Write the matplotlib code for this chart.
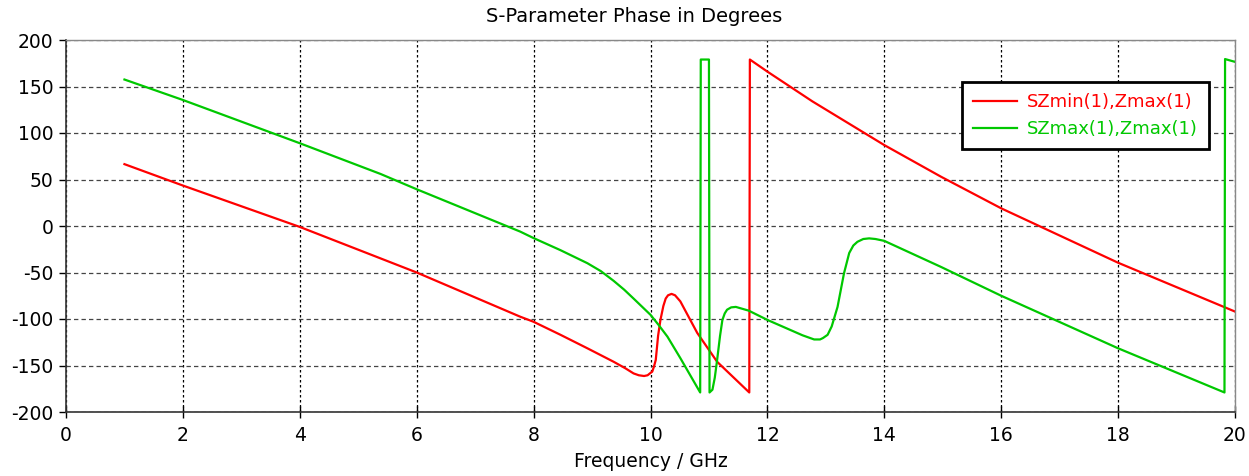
import matplotlib
matplotlib.use("Agg")
import matplotlib.pyplot as plt

# Phase of S-parameters versus frequency
freq_min = [1.0, 2.0, 4.0, 5.38, 6.0, 7.77, 8.0, 8.46, 8.92, 9.37, 9.57, 9.71, 9.8, 9.89, 9.95,
            10.0, 10.03, 10.06, 10.09, 10.11, 10.13, 10.17, 10.22, 10.26, 10.3, 10.36, 10.42,
            10.51, 10.8, 11.14, 11.69, 11.70, 12.0, 12.77, 14.0, 14.97, 16.0, 18.0, 20.0]
phase_min = [66.5, 43.5, -1.0, -34.8, -50.0, -97.5, -103.0, -117.0, -131.5, -146.0, -153.0,
             -158.5, -160.5, -161.3, -160.5, -158.0, -156.6, -151.0, -144.0, -131.0, -118.0,
             -101.0, -86.0, -78.0, -74.5, -73.0, -74.5, -81.0, -115.0, -146.0, -179.0, 179.0,
             166.0, 134.0, 87.0, 53.0, 19.0, -39.5, -92.0]

freq_max = [1.0, 2.0, 4.0, 5.38, 6.0, 7.77, 8.0, 8.46, 8.92, 9.15, 9.37, 9.55, 9.71, 10.0, 10.14,
            10.29, 10.51, 10.85, 10.86, 11.0, 11.01, 11.06, 11.1, 11.14, 11.19, 11.23, 11.27,
            11.31, 11.38, 11.46, 11.68, 12.0, 12.4, 12.6, 12.8, 12.9, 12.95, 13.03, 13.1, 13.2,
            13.31, 13.4, 13.47, 13.54, 13.64, 13.74, 13.85, 14.0, 14.97, 16.0, 18.0, 19.82,
            19.83, 20.0]
phase_max = [157.5, 135.5, 89.0, 56.0, 39.5, -6.0, -13.0, -26.0, -40.0, -48.5, -59.0, -68.5,
             -78.0, -95.5, -106.5, -119.0, -142.0, -179.0, 179.0, 179.0, -179.0, -176.0, -163.0,
             -144.0, -118.0, -101.0, -94.0, -90.0, -87.5, -87.0, -91.0, -101.0, -112.0, -117.5,
             -122.0, -122.0, -120.5, -117.0, -108.0, -87.0, -51.0, -29.0, -21.0, -17.0, -14.0,
             -13.3, -14.0, -16.0, -44.0, -75.0, -131.5, -179.0, 179.5, 176.5]

labels = ["SZmin(1),Zmax(1)", "SZmax(1),Zmax(1)"]
colors = ["#ff0000", "#00c800"]
x_ticks = list(range(0, 21, 2))
y_ticks = list(range(-200, 201, 50))

plt.rcParams["font.family"] = ["DejaVu Sans"]
plt.rcParams["axes.unicode_minus"] = False

fig = plt.figure(figsize=(12.49, 4.76), dpi=100)
ax = fig.add_axes([66 / 1249, 1 - 412 / 476, (1235 - 66) / 1249, (412 - 40) / 476])

ax.plot(freq_min, phase_min, color=colors[0], lw=1.6, label=labels[0])
ax.plot(freq_max, phase_max, color=colors[1], lw=1.6, label=labels[1])

ax.set_xlim(0, 20)
ax.set_ylim(-200, 200)
ax.set_xticks(x_ticks)
ax.set_yticks(y_ticks)

# grid: short dashes, vertical ones finer
ax.yaxis.grid(True, color="#444444", linestyle=(0, (3.5, 2.5)), lw=0.9)
ax.xaxis.grid(True, color="#000000", linestyle=(0, (2, 2)), lw=0.9)
ax.set_axisbelow(True)

for side in ["top", "right"]:
    ax.spines[side].set_color("#888888")
    ax.spines[side].set_linewidth(1.0)
for side in ["left", "bottom"]:
    ax.spines[side].set_color("#333333")
    ax.spines[side].set_linewidth(1.2)

ax.tick_params(axis="y", direction="out", length=5, width=1, labelsize=13.5, pad=4)
ax.tick_params(axis="x", direction="inout", length=8, width=1, labelsize=13.5, pad=6)

ax.set_xlabel("Frequency / GHz", fontsize=13.5, labelpad=5)
fig.text(0.508, 1 - 17 / 476, "S-Parameter Phase in Degrees", ha="center", va="center",
         fontsize=14)

leg = ax.legend(loc="upper left", bbox_to_anchor=((962 - 66) / 1169, 1 - (82 - 40) / 372),
                fontsize=13, labelcolor="linecolor", fancybox=False, framealpha=1,
                edgecolor="black", handlelength=2.45, handletextpad=0.55, borderpad=0.6,
                labelspacing=0.5, borderaxespad=0)
leg.get_frame().set_linewidth(2.0)

fig.savefig("out.png", dpi=100)
